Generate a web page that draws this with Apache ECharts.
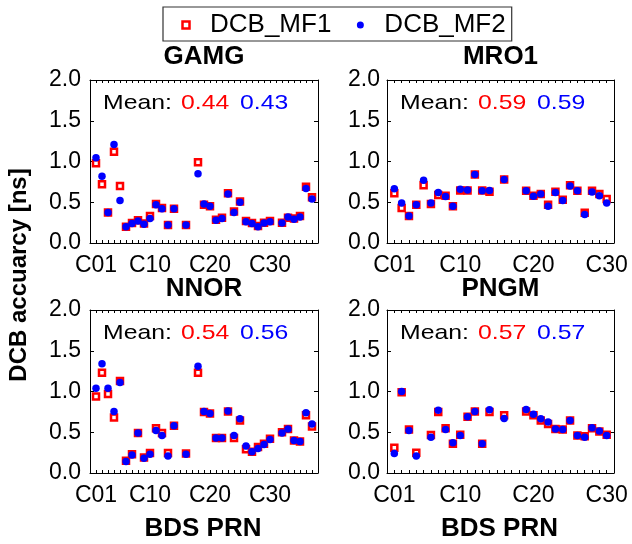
<!DOCTYPE html>
<html>
<head>
<meta charset="utf-8">
<script src="https://cdn.jsdelivr.net/npm/echarts@6/dist/echarts.min.js"></script>
<style>
  html, body { margin: 0; padding: 0; background: #fff; }
  #chart { width: 632px; height: 544px; }
</style>
</head>
<body>
<div id="chart"></div>
<script>
// Station names, one panel each
const stations = ['GAMG', 'MRO1', 'NNOR', 'PNGM'];
const seriesNames = ['DCB_MF1', 'DCB_MF2'];

// BDS PRN numbers available per station
const prnGAMG = [1,2,3,4,5,6,7,8,9,10,11,12,13,14,16,18,19,20,21,22,23,24,25,26,27,28,29,30,32,33,34,35,36,37];
const prnMRO1 = [1,2,3,4,5,6,7,8,9,10,11,12,13,14,16,19,20,21,22,23,24,25,26,27,28,29,30];
const prnNNOR = prnGAMG;
const prnPNGM = [1,2,3,4,6,7,8,9,10,11,12,13,14,16,19,20,21,22,23,24,25,26,27,28,29,30];

// DCB accuracy [ns]
const gamgMF1 = [0.98,0.72,0.375,1.12,0.70,0.20,0.245,0.28,0.24,0.33,0.48,0.43,0.22,0.42,0.22,0.99,0.47,0.45,0.285,0.31,0.61,0.385,0.51,0.27,0.245,0.21,0.25,0.27,0.25,0.31,0.30,0.33,0.69,0.56];
const gamgMF2 = [1.045,0.82,0.375,1.21,0.52,0.20,0.24,0.27,0.23,0.30,0.47,0.42,0.22,0.42,0.22,0.85,0.48,0.45,0.28,0.30,0.60,0.375,0.50,0.26,0.24,0.20,0.245,0.26,0.245,0.32,0.29,0.32,0.67,0.54];
const mro1MF1 = [0.61,0.43,0.33,0.47,0.71,0.48,0.59,0.58,0.45,0.645,0.645,0.84,0.645,0.63,0.78,0.64,0.58,0.60,0.47,0.63,0.53,0.71,0.64,0.37,0.64,0.60,0.54];
const mro1MF2 = [0.665,0.49,0.33,0.47,0.77,0.49,0.62,0.57,0.45,0.66,0.65,0.84,0.64,0.645,0.78,0.64,0.575,0.60,0.45,0.62,0.52,0.70,0.64,0.35,0.625,0.58,0.49];
const nnorMF1 = [0.94,1.23,0.97,0.68,1.13,0.15,0.23,0.49,0.19,0.245,0.55,0.49,0.245,0.58,0.24,1.23,0.75,0.73,0.43,0.43,0.755,0.43,0.645,0.29,0.26,0.32,0.36,0.42,0.50,0.54,0.40,0.385,0.71,0.57];
const nnorMF2 = [1.04,1.34,1.04,0.755,1.11,0.14,0.22,0.49,0.18,0.23,0.52,0.46,0.21,0.58,0.23,1.31,0.755,0.73,0.43,0.43,0.76,0.46,0.665,0.33,0.26,0.30,0.35,0.41,0.49,0.54,0.40,0.385,0.74,0.60];
const pngmMF1 = [0.31,0.99,0.535,0.25,0.465,0.75,0.55,0.36,0.47,0.69,0.755,0.36,0.75,0.71,0.755,0.71,0.645,0.60,0.54,0.535,0.645,0.46,0.45,0.55,0.51,0.47];
const pngmMF2 = [0.24,1.00,0.52,0.21,0.44,0.77,0.535,0.37,0.46,0.69,0.755,0.36,0.775,0.67,0.78,0.72,0.665,0.625,0.54,0.535,0.645,0.46,0.44,0.555,0.515,0.46];

// Mean values printed in each panel
const meanMF1 = ['0.44', '0.59', '0.54', '0.57'];
const meanMF2 = ['0.43', '0.59', '0.56', '0.57'];

// Axis ranges and labelled ticks
const prnMax = [38, 31, 38, 31];
const prnTickLabels = [1, 10, 20, 30];
const yTicks = { min: 0, max: 2, interval: 0.5 };

const panelPrn = [prnGAMG, prnMRO1, prnNNOR, prnPNGM];
const panelMF1 = [gamgMF1, mro1MF1, nnorMF1, pngmMF1];
const panelMF2 = [gamgMF2, mro1MF2, nnorMF2, pngmMF2];

const RED = '#ff0000';
const BLUE = '#0000ff';
const FONT = 'Liberation Sans, Arial, Helvetica, sans-serif';

const grids = [
  { left: 90,  top: 80,  width: 228, height: 163 },
  { left: 387, top: 80,  width: 227, height: 163 },
  { left: 90,  top: 310, width: 228, height: 163 },
  { left: 387, top: 310, width: 227, height: 163 }
];

const axisLine = { show: true, onZero: false, lineStyle: { color: '#000', width: 1 } };

const xAxes = [];
const yAxes = [];
const series = [];
const titles = [];
const graphics = [];

grids.forEach((g, i) => {
  // bottom PRN axis with labels
  xAxes.push({
    type: 'value', gridIndex: i, position: 'bottom',
    min: 0, max: prnMax[i], interval: 1,
    axisLine: axisLine,
    axisTick: { show: true, inside: true, length: 3, lineStyle: { color: '#000' } },
    splitLine: { show: false },
    axisLabel: {
      show: true, margin: 11, color: '#000', fontSize: 23, fontFamily: FONT,
      showMinLabel: true, showMaxLabel: true,
      formatter: v => prnTickLabels.includes(v) ? 'C' + String(v).padStart(2, '0') : ''
    }
  });
  // mirrored top axis (ticks only)
  xAxes.push({
    type: 'value', gridIndex: i, position: 'top',
    min: 0, max: prnMax[i], interval: 1,
    axisLine: axisLine,
    axisTick: { show: true, inside: true, length: 3, lineStyle: { color: '#000' } },
    splitLine: { show: false },
    axisLabel: { show: false }
  });
  // left accuracy axis with labels
  yAxes.push({
    type: 'value', gridIndex: i, position: 'left',
    min: yTicks.min, max: yTicks.max, interval: yTicks.interval,
    axisLine: axisLine,
    axisTick: { show: true, inside: true, length: 4, lineStyle: { color: '#000' } },
    splitLine: { show: false },
    axisLabel: {
      show: true, margin: (i % 2 === 0) ? 9 : 7, color: '#000', fontSize: 23, fontFamily: FONT,
      formatter: v => v.toFixed(1)
    }
  });
  // mirrored right axis (ticks only)
  yAxes.push({
    type: 'value', gridIndex: i, position: 'right',
    min: yTicks.min, max: yTicks.max, interval: yTicks.interval,
    axisLine: axisLine,
    axisTick: { show: true, inside: true, length: 4, lineStyle: { color: '#000' } },
    splitLine: { show: false },
    axisLabel: { show: false }
  });

  const prn = panelPrn[i];
  series.push({
    name: seriesNames[0], type: 'scatter',
    xAxisIndex: 2 * i, yAxisIndex: 2 * i,
    symbol: 'rect', symbolSize: 6,
    itemStyle: { color: '#fff', borderColor: RED, borderWidth: 2.5, opacity: 1 },
    emphasis: { disabled: true },
    data: prn.map((p, k) => [p, panelMF1[i][k]])
  });
  series.push({
    name: seriesNames[1], type: 'scatter',
    xAxisIndex: 2 * i, yAxisIndex: 2 * i,
    symbol: 'circle', symbolSize: 7.5,
    itemStyle: { color: BLUE, opacity: 1 },
    emphasis: { disabled: true },
    data: prn.map((p, k) => [p, panelMF2[i][k]])
  });

  const cx = g.left + g.width / 2;
  titles.push({
    text: stations[i],
    left: cx, top: (i < 2) ? 44 : 276, textAlign: 'center', padding: 0,
    textStyle: { fontSize: 26, fontWeight: 'bold', color: '#000', fontFamily: FONT }
  });

  // mean values inside the panel
  const my = g.top + 23.5;
  const meanParts = [
    { text: 'Mean:', dx: 13, fill: '#000' },
    { text: meanMF1[i], dx: 91, fill: RED },
    { text: meanMF2[i], dx: 150, fill: BLUE }
  ];
  meanParts.forEach(p => {
    graphics.push({
      type: 'text', x: g.left + p.dx, y: my, scaleX: 1.18, silent: true,
      style: { text: p.text, fill: p.fill, font: '21px ' + FONT, align: 'left', verticalAlign: 'middle' }
    });
  });
});

// x-axis names under the bottom panels
[2, 3].forEach(i => {
  const g = grids[i];
  graphics.push({
    type: 'text', x: g.left + g.width / 2 - 1, y: 529, silent: true,
    style: { text: 'BDS PRN', fill: '#000', font: 'bold 26px ' + FONT, align: 'center', verticalAlign: 'middle' }
  });
});

// shared y-axis name
graphics.push({
  type: 'text', x: 19, y: 275, rotation: Math.PI / 2, silent: true,
  style: { text: 'DCB accuarcy [ns]', fill: '#000', font: 'bold 24px ' + FONT, align: 'center', verticalAlign: 'middle' }
});

const option = {
  animation: false,
  backgroundColor: '#fff',
  title: titles,
  legend: {
    data: [
      // square icon that keeps its aspect inside the icon box
      { name: seriesNames[0], icon: 'path://M0,0L10,0L10,10L0,10Z', itemStyle: { borderWidth: 2.5 } },
      { name: seriesNames[1] }
    ],
    left: 163, top: 7,
    orient: 'horizontal',
    itemWidth: 38, itemHeight: 7, itemGap: 25.5,
    symbolKeepAspect: true,
    padding: [5, 6, 3, 18.25],
    borderColor: '#333', borderWidth: 1.2, borderRadius: 0,
    selectedMode: false,
    textStyle: { fontSize: 26, color: '#000', fontFamily: FONT }
  },
  grid: grids.map(g => Object.assign({ containLabel: false, outerBoundsMode: 'none' }, g)),
  xAxis: xAxes,
  yAxis: yAxes,
  series: series,
  graphic: graphics
};

const chart = echarts.init(document.getElementById('chart'), null, { renderer: 'canvas' });
chart.setOption(option);
</script>
</body>
</html>
